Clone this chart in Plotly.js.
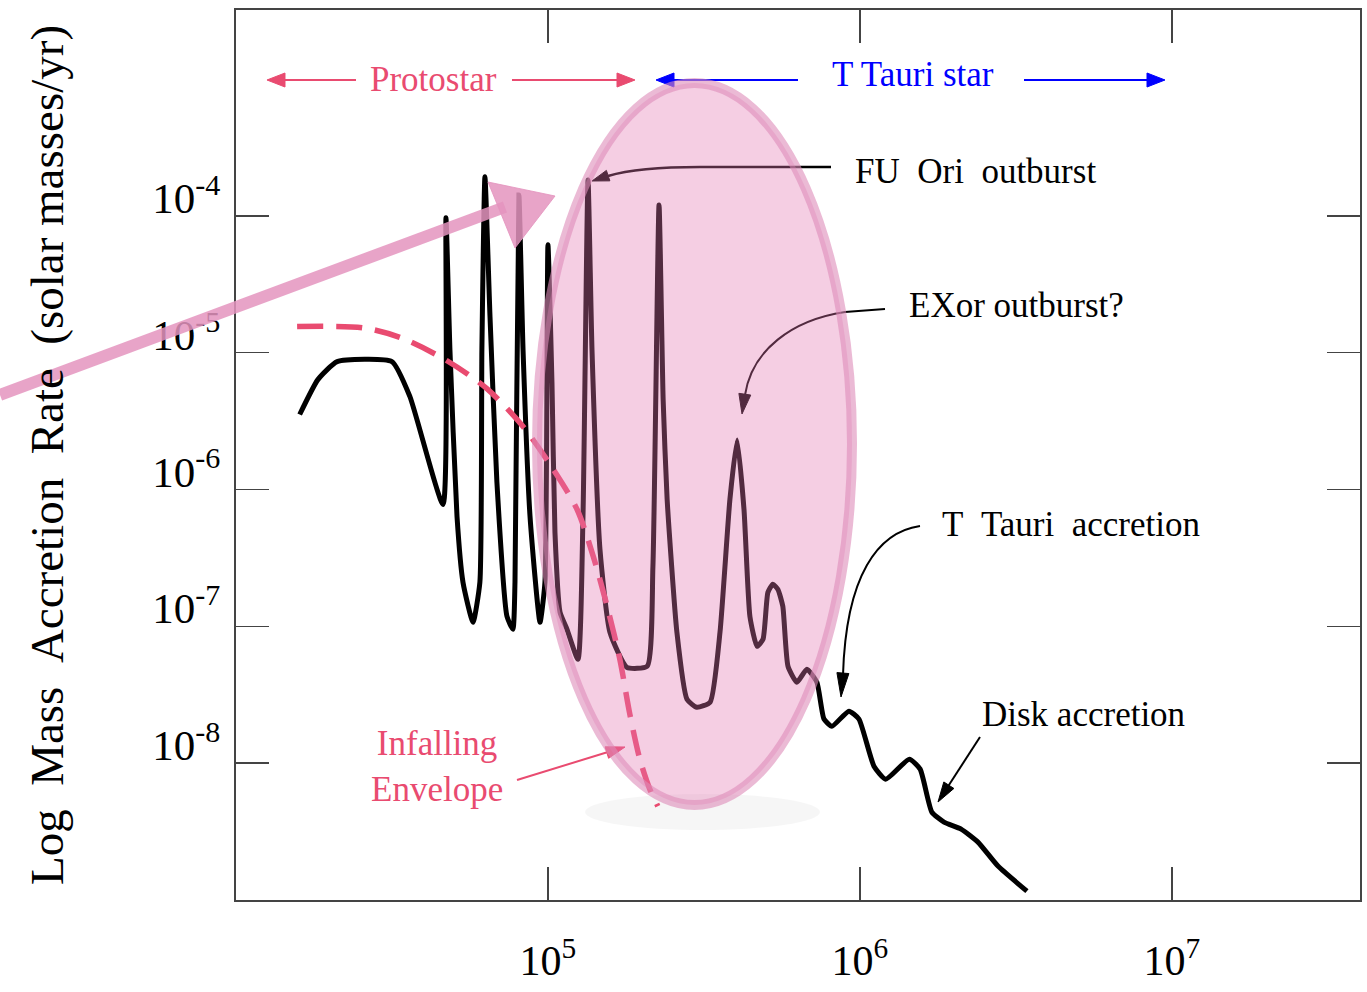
<!DOCTYPE html>
<html>
<head>
<meta charset="utf-8">
<script src="https://cdn.plot.ly/plotly-3.0.1.min.js"></script>
<style>
html,body{margin:0;padding:0;background:#ffffff;}
#chart{width:1367px;height:992px;}
</style>
</head>
<body>
<div id="chart"></div>
<script>
// ---------------- data (years, solar masses / yr) ----------------
const years = [1.60e4, 1.83e4, 2.11e4, 3.16e4, 3.61e4, 4.61e4, 4.71e4, 4.85e4, 5.11e4, 5.34e4,
  5.75e4, 6.05e4, 6.14e4, 6.28e4, 6.52e4, 6.86e4, 7.39e4, 7.72e4, 7.84e4, 8.07e4,
  8.32e4, 8.76e4, 9.43e4, 9.78e4, 1.00e5, 1.03e5, 1.053e5, 1.093e5, 1.151e5, 1.248e5,
  1.295e5, 1.344e5, 1.384e5, 1.468e5, 1.58e5, 1.79e5, 2.08e5, 2.17e5, 2.27e5, 2.34e5,
  2.41e5, 2.59e5, 2.79e5, 3.00e5, 3.31e5, 3.56e5, 3.83e5, 4.04e5, 4.25e5, 4.44e5,
  4.68e5, 4.89e5, 5.07e5, 5.26e5, 5.46e5, 5.66e5, 5.88e5, 6.28e5, 6.76e5, 7.28e5,
  7.67e5, 8.13e5, 9.22e5, 9.93e5, 1.109e6, 1.21e6, 1.44e6, 1.56e6, 1.70e6, 1.86e6,
  2.11e6, 2.39e6, 2.77e6, 3.43e6];
const rates = [3.53e-6, 6.35e-6, 8.60e-6, 8.60e-6, 4.77e-6, 7.77e-7, 9.67e-5, 1.05e-5, 6.35e-7, 2.10e-7,
  1.07e-7, 2.10e-7, 1.05e-5, 1.93e-4, 1.83e-5, 1.13e-6, 1.18e-7, 9.51e-8, 2.10e-7, 1.42e-4,
  1.05e-5, 6.35e-7, 1.07e-7, 2.10e-7, 6.14e-5, 6.04e-6, 4.86e-7, 1.27e-7, 9.51e-8, 5.74e-8,
  6.35e-7, 1.83e-4, 1.05e-5, 3.65e-7, 9.04e-8, 5.02e-8, 5.10e-8, 2.74e-7, 1.20e-4, 4.54e-6,
  8.45e-7, 9.04e-8, 2.93e-8, 2.56e-8, 2.79e-8, 9.04e-8, 8.45e-7, 2.30e-6, 7.14e-7, 1.18e-7,
  7.14e-8, 8.04e-8, 1.77e-7, 2.03e-7, 1.86e-7, 1.40e-7, 5.11e-8, 3.90e-8, 4.86e-8, 3.90e-8,
  2.10e-8, 1.86e-8, 2.40e-8, 2.10e-8, 9.51e-9, 7.64e-9, 1.07e-8, 9.04e-9, 4.39e-9, 3.71e-9,
  3.30e-9, 2.65e-9, 1.77e-9, 1.16e-9];

const envelopeYears = [1.57e4, 2.55e4, 3.36e4, 4.68e4, 6.37e4, 8.32e4, 1.03e5, 1.24e5,
  1.40e5, 1.55e5, 1.70e5, 1.83e5, 1.97e5, 2.12e5, 2.25e5];
const envelopeRates = [1.55e-5, 1.52e-5, 1.29e-5, 8.9e-6, 5.46e-6, 2.88e-6, 1.45e-6, 7.14e-7,
  3.19e-7, 1.38e-7, 5.74e-8, 2.28e-8, 1.07e-8, 6.46e-9, 4.85e-9];

const xTickVals = [1e5, 1e6, 1e7];
const xTickText = ['10<sup>5</sup>', '10<sup>6</sup>', '10<sup>7</sup>'];
const yTickVals = [1e-8, 1e-7, 1e-6, 1e-5, 1e-4];
const yTickText = ['10<sup>-8</sup>', '10<sup>-7</sup>', '10<sup>-6</sup>', '10<sup>-5</sup>', '10<sup>-4</sup>'];

const labels = {
  protostar: 'Protostar',
  tTauriStar: 'T Tauri star',
  fuOri: 'FU\u00a0\u00a0Ori\u00a0\u00a0outburst',
  exor: 'EXor outburst?',
  tTauriAccretion: 'T\u00a0\u00a0Tauri\u00a0\u00a0accretion',
  disk: 'Disk accretion',
  envelope: 'Infalling<br>Envelope',
  yTitle: 'Log\u00a0\u00a0Mass\u00a0\u00a0Accretion\u00a0\u00a0Rate\u00a0\u00a0(solar masses/yr)'
};

// ---------------- styling / decoration helpers ----------------
const SERIF = '"Liberation Serif", "Times New Roman", Times, serif';
const PINK = '#e94b70';
const BLUE = '#0000ff';
const AXIS = '#444444';

// plot frame in page pixels, used to place the hand-drawn decorations in paper units
const PL = 236, PR = 1360, PT = 10, PB = 900;
const fx = x => (x - PL) / (PR - PL);
const fy = y => (PB - y) / (PB - PT);
const pt = p => fx(p[0]).toFixed(5) + ',' + fy(p[1]).toFixed(5);

function pathShape(segs, color, width, layer, fill) {
  const d = segs.map(s => s[0] + ' ' + s.slice(1).map(pt).join(' ')).join(' ');
  return {
    type: 'path', xref: 'paper', yref: 'paper', path: d, layer: layer || 'below',
    line: {color: color, width: width}, fillcolor: fill || 'rgba(0,0,0,0)'
  };
}
function headShape(tip, from, len, hw, color, layer) {
  const dx = tip[0] - from[0], dy = tip[1] - from[1];
  const n = Math.hypot(dx, dy), ux = dx / n, uy = dy / n;
  const bx = tip[0] - ux * len, by = tip[1] - uy * len;
  const v1 = [bx - uy * hw, by + ux * hw], v2 = [bx + uy * hw, by - ux * hw];
  return pathShape([['M', tip], ['L', v1], ['L', v2], ['Z']], color, 1, layer, color);
}
function textAnn(text, x, y, color) {
  return {
    text: text, xref: 'paper', yref: 'paper', x: fx(x), y: fy(y),
    xanchor: 'center', yanchor: 'middle', showarrow: false,
    font: {family: SERIF, size: 35, color: color || '#000000'}
  };
}

const shapes = [];
// soft shadow under the highlighted region
shapes.push({type: 'circle', xref: 'paper', yref: 'paper', layer: 'below',
  x0: fx(585), x1: fx(820), y0: fy(830), y1: fy(794),
  fillcolor: 'rgba(0,0,0,0.035)', line: {width: 0}});
// Protostar / T Tauri star range arrows
shapes.push(pathShape([['M', [356, 80]], ['L', [283, 80]]], PINK, 2));
shapes.push(headShape([267, 80], [356, 80], 18, 7, PINK));
shapes.push(pathShape([['M', [512, 80]], ['L', [619, 80]]], PINK, 2));
shapes.push(headShape([635, 80], [512, 80], 18, 7, PINK));
shapes.push(pathShape([['M', [798, 80]], ['L', [672, 80]]], BLUE, 2));
shapes.push(headShape([656, 80], [798, 80], 18, 7, BLUE));
shapes.push(pathShape([['M', [1024, 80]], ['L', [1149, 80]]], BLUE, 2));
shapes.push(headShape([1165, 80], [1024, 80], 18, 7, BLUE));
// FU Ori arrow
shapes.push(pathShape([['M', [831, 167]], ['L', [700, 167]], ['C', [660, 167], [628, 170], [608, 176]]], '#000', 2.5));
shapes.push(headShape([592, 181], [610, 175], 17, 5.5, '#000'));
// EXor arrow
shapes.push(pathShape([['M', [885, 309]], ['L', [845, 312]], ['C', [792, 320], [752, 350], [745, 395]]], '#000', 2));
shapes.push(headShape([742, 414], [745, 393], 20, 6, '#000'));
// T Tauri accretion arrow
shapes.push(pathShape([['M', [920, 526]], ['C', [878, 532], [846, 575], [843, 675]]], '#000', 2));
shapes.push(headShape([841, 697], [843, 672], 24, 6, '#000'));
// Disk accretion arrow
shapes.push(pathShape([['M', [980, 737]], ['L', [947, 788]]], '#000', 2));
shapes.push(headShape([938, 802], [980, 737], 20, 6, '#000'));
// Infalling envelope arrow
shapes.push(pathShape([['M', [517, 780]], ['L', [608, 752]]], PINK, 2));
shapes.push(headShape([625, 747], [517, 780], 19, 6, PINK));
// highlighted region (semi-transparent ellipse over the curves)
shapes.push({type: 'circle', xref: 'paper', yref: 'paper', layer: 'above',
  x0: fx(537), x1: fx(852), y0: fy(805), y1: fy(83),
  fillcolor: 'rgba(228,118,178,0.36)', line: {color: 'rgba(222,140,185,0.6)', width: 10}});
// big hand-drawn pink arrow
shapes.push(pathShape([['M', [0, 395]], ['L', [505, 207]]], 'rgba(228,148,190,0.85)', 12, 'above'));
shapes.push(pathShape([['M', [488, 182]], ['L', [555, 196]], ['L', [515, 248]], ['Z']],
  'rgba(228,148,190,0.85)', 1, 'above', 'rgba(228,148,190,0.85)'));

const annotations = [
  textAnn(labels.protostar, 433, 79, PINK),
  textAnn(labels.tTauriStar, 913, 75, BLUE),
  textAnn(labels.fuOri, 975, 171),
  textAnn(labels.exor, 1016, 305),
  textAnn(labels.tTauriAccretion, 1071, 524),
  textAnn(labels.disk, 1083, 714),
  textAnn(labels.envelope, 437, 766, PINK)
];

const traces = [
  {x: years, y: rates, type: 'scatter', mode: 'lines', name: 'Accretion rate',
   line: {color: '#000000', width: 5, shape: 'spline', smoothing: 0.5}, hoverinfo: 'x+y'},
  {x: envelopeYears, y: envelopeRates, type: 'scatter', mode: 'lines', name: 'Infalling envelope',
   line: {color: PINK, width: 5.5, dash: '26px,13px', shape: 'spline', smoothing: 0.8}, hoverinfo: 'x+y'}
];

const axisCommon = {
  showline: true, linecolor: AXIS, linewidth: 2, mirror: 'ticks',
  ticks: 'inside', ticklen: 33, tickwidth: 1.5, tickcolor: AXIS,
  showgrid: false, zeroline: false, tickmode: 'array',
  tickfont: {family: SERIF, size: 43, color: '#000000'}
};

const layout = {
  width: 1367, height: 992,
  margin: {l: PL, r: 1367 - PR, t: PT, b: 992 - PB},
  paper_bgcolor: '#ffffff', plot_bgcolor: 'rgba(0,0,0,0)',
  showlegend: false,
  xaxis: Object.assign({}, axisCommon, {
    type: 'log', range: [4, 7.603], tickvals: xTickVals, ticktext: xTickText,
    ticklabelstandoff: 23, tickfont: {family: SERIF, size: 42, color: '#000000'}
  }),
  yaxis: Object.assign({}, axisCommon, {
    type: 'log', range: [-9, -2.496], tickvals: yTickVals, ticktext: yTickText,
    ticklabelstandoff: 5, ticklabelshift: -18,
    title: {text: labels.yTitle, font: {family: SERIF, size: 47, color: '#000000'}, standoff: 74}
  }),
  shapes: shapes,
  annotations: annotations
};

Plotly.newPlot('chart', traces, layout, {displayModeBar: false, staticPlot: true});
</script>
</body>
</html>
